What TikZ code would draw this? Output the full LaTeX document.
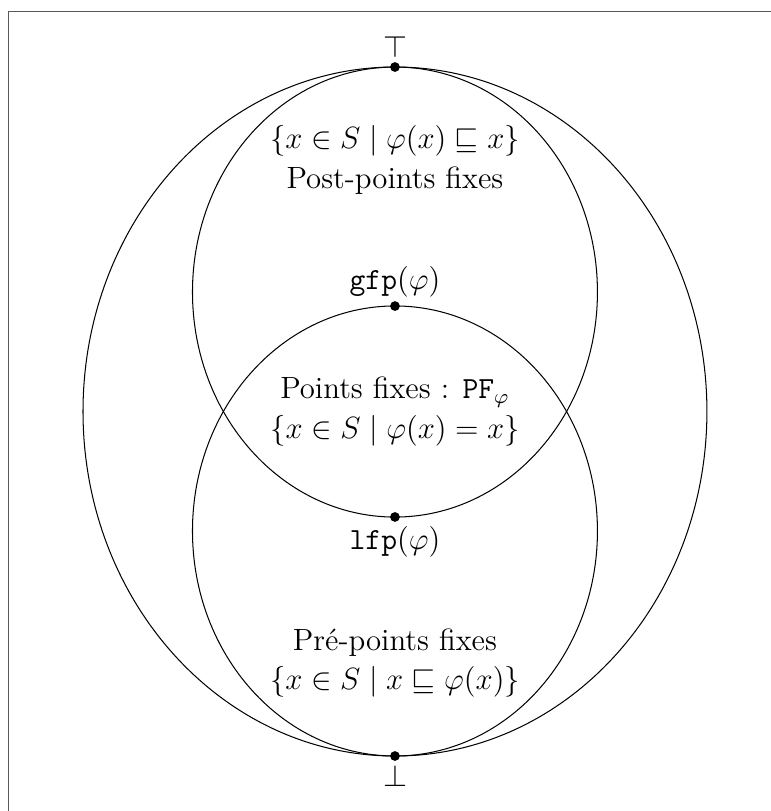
\documentclass[tikz,border=0pt]{standalone}
\usepackage{amssymb}

\tikzset{
  every node/.style={font=\fontsize{12}{14.5}\selectfont},
  dotnode/.style={circle,fill,inner sep=0pt,minimum size=3.8pt}
}

\begin{document}
\begin{tikzpicture}[x=1cm,y=1cm]
    \useasboundingbox (-5.415,-5.477) rectangle (5.155,5.642);
    \draw[gray!70!black] (-5.292,-5.477) |- (5.155,5.484);
    % ensembles
    \draw (0,0) ellipse (4.277 and 4.723);
    \draw (0,1.638) ellipse (2.776 and 3.085);
    \draw (0,-1.638) ellipse (2.776 and 3.085);
    % points remarquables
    \node[dotnode] (top) at (0,4.723) {};
    \node[dotnode] (bot) at (0,-4.723) {};
    \node[dotnode] (gfp) at (0,1.446) {};
    \node[dotnode] (lfp) at (0,-1.446) {};
    \node[above] (toplab) at (top.center) {$\top$};
    \node[below] (botlab) at (bot.center) {$\bot$};
    \node[above] (gfplab) at (gfp.center) {$\mathtt{gfp}(\varphi)$};
    \node[below] (lfplab) at (lfp.center) {$\mathtt{lfp}(\varphi)$};
    % textes
    \node[align=center] (post) at (0,3.448)
      {$\{x\in S \mid \varphi(x)\sqsubseteq x\}$\\[1pt] Post-points fixes};
    \node[align=center] (pf) at (0,0)
      {Points fixes : $\mathtt{PF}_\varphi$\\[1pt] $\{x\in S \mid \varphi(x)=x\}$};
    \node[align=center] (pre) at (0,-3.448)
      {Pr\'e-points fixes\\[1pt] $\{x\in S \mid x\sqsubseteq\varphi(x)\}$};
  \end{tikzpicture}
\end{document}
